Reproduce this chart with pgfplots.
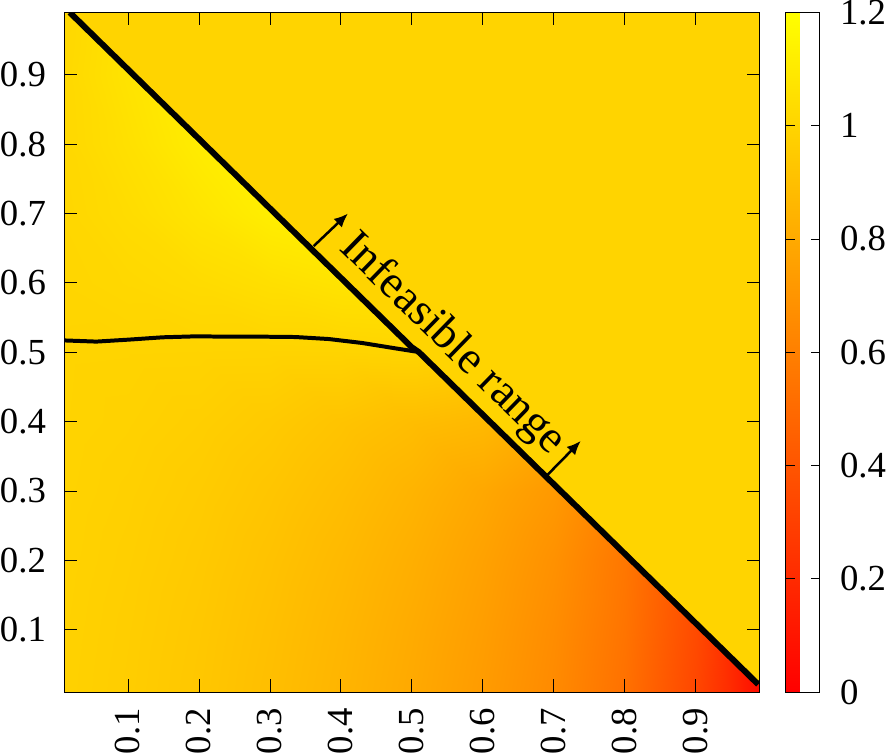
\documentclass[border=0pt]{standalone}
\usepackage{fontspec}
\setmainfont{Liberation Serif}
\usepackage{pgfplots}
\pgfplotsset{compat=1.18}
\usetikzlibrary{arrows.meta}
\definecolor{infeas}{RGB}{255,212,0}

\begin{document}
\begin{tikzpicture}
\begin{axis}[
    scale only axis,
    width=697.7bp, height=681.7bp,
    xmin=0.01, xmax=0.99, ymin=0.01, ymax=0.99,
    enlargelimits=false,
    axis on top,
    axis line style={line width=1bp},
    tick style={line width=0.8bp, black},
    tick align=inside,
    major tick length=13bp,
    xtick pos=both, ytick pos=both,
    xticklabel pos=lower, yticklabel pos=left,
    xtick={0.1,0.2,0.3,0.4,0.5,0.6,0.7,0.8,0.9},
    ytick={0.1,0.2,0.3,0.4,0.5,0.6,0.7,0.8,0.9},
    xticklabels={0.1,0.2,0.3,0.4,0.5,0.6,0.7,0.8,0.9},
    yticklabels={0.1,0.2,0.3,0.4,0.5,0.6,0.7,0.8,0.9},
    /pgf/number format/assume math mode=true,
    every tick label/.append style={font=\fontsize{37}{40}\selectfont, inner sep=0pt},
    xticklabel style={rotate=90, anchor=east},
    xticklabel shift=16bp,
    yticklabel shift=18bp,
    colormap={gp}{rgb255=(255,0,0) rgb255=(255,255,0)},
    point meta min=0, point meta max=1.2,
    colorbar,
    colorbar style={
        at={(parent axis.north east)}, anchor=north west,
        xshift=17.7bp,
        width=34.3bp, height=681.7bp,
        ytick={0,0.2,0.4,0.6,0.8,1,1.2},
        yticklabels={0,0.2,0.4,0.6,0.8,1,1.2},
        tick align=inside,
        major tick length=9bp,
        ytick pos=both, yticklabel pos=right,
        yticklabel style={font=\fontsize{37}{40}\selectfont, inner sep=0pt, anchor=west},
        yticklabel shift=20bp,
        axis line style={line width=1bp},
    },
]
% heat map, values
\addplot[surf, shader=interp, mesh/cols=12, point meta=explicit]
  table[x=x, y=y, meta=v] {
x y v
0.01 0.01 0.985
0.10 0.01 0.965
0.20 0.01 0.935
0.30 0.01 0.895
0.40 0.01 0.850
0.50 0.01 0.795
0.60 0.01 0.730
0.70 0.01 0.650
0.80 0.01 0.530
0.90 0.01 0.330
0.95 0.01 0.200
0.99 0.01 0.050
0.01 0.10 0.987
0.10 0.10 0.968
0.20 0.10 0.940
0.30 0.10 0.902
0.40 0.10 0.858
0.50 0.10 0.805
0.60 0.10 0.742
0.70 0.10 0.662
0.80 0.10 0.545
0.90 0.10 0.350
0.95 0.10 0.200
0.99 0.10 0.050
0.01 0.20 0.990
0.10 0.20 0.973
0.20 0.20 0.948
0.30 0.20 0.913
0.40 0.20 0.872
0.50 0.20 0.822
0.60 0.20 0.760
0.70 0.20 0.682
0.80 0.20 0.560
0.90 0.20 0.350
0.95 0.20 0.200
0.99 0.20 0.050
0.01 0.30 0.993
0.10 0.30 0.979
0.20 0.30 0.958
0.30 0.30 0.928
0.40 0.30 0.892
0.50 0.30 0.846
0.60 0.30 0.788
0.70 0.30 0.720
0.80 0.30 0.560
0.90 0.30 0.350
0.95 0.30 0.200
0.99 0.30 0.050
0.01 0.40 0.996
0.10 0.40 0.987
0.20 0.40 0.972
0.30 0.40 0.950
0.40 0.40 0.920
0.50 0.40 0.890
0.60 0.40 0.870
0.70 0.40 0.720
0.80 0.40 0.560
0.90 0.40 0.350
0.95 0.40 0.200
0.99 0.40 0.050
0.01 0.50 0.997
0.10 0.50 0.996
0.20 0.50 0.995
0.30 0.50 0.994
0.40 0.50 0.995
0.50 0.50 1.000
0.60 0.50 0.870
0.70 0.50 0.720
0.80 0.50 0.560
0.90 0.50 0.350
0.95 0.50 0.200
0.99 0.50 0.050
0.01 0.60 1.005
0.10 0.60 1.015
0.20 0.60 1.030
0.30 0.60 1.050
0.40 0.60 1.070
0.50 0.60 1.000
0.60 0.60 0.870
0.70 0.60 0.720
0.80 0.60 0.560
0.90 0.60 0.350
0.95 0.60 0.200
0.99 0.60 0.050
0.01 0.70 1.010
0.10 0.70 1.035
0.20 0.70 1.075
0.30 0.70 1.120
0.40 0.70 1.070
0.50 0.70 1.000
0.60 0.70 0.870
0.70 0.70 0.720
0.80 0.70 0.560
0.90 0.70 0.350
0.95 0.70 0.200
0.99 0.70 0.050
0.01 0.80 1.015
0.10 0.80 1.055
0.20 0.80 1.110
0.30 0.80 1.120
0.40 0.80 1.070
0.50 0.80 1.000
0.60 0.80 0.870
0.70 0.80 0.720
0.80 0.80 0.560
0.90 0.80 0.350
0.95 0.80 0.200
0.99 0.80 0.050
0.01 0.90 1.018
0.10 0.90 1.070
0.20 0.90 1.110
0.30 0.90 1.120
0.40 0.90 1.070
0.50 0.90 1.000
0.60 0.90 0.870
0.70 0.90 0.720
0.80 0.90 0.560
0.90 0.90 0.350
0.95 0.90 0.200
0.99 0.90 0.050
0.01 0.99 1.012
0.10 0.99 1.070
0.20 0.99 1.110
0.30 0.99 1.120
0.40 0.99 1.070
0.50 0.99 1.000
0.60 0.99 0.870
0.70 0.99 0.720
0.80 0.99 0.560
0.90 0.99 0.350
0.95 0.99 0.200
0.99 0.99 0.050
};
% infeasible region (constant value 1)
\addplot[fill=infeas, draw=none] coordinates {
  (0.018,0.99) (0.99,0.99) (0.99,0.021) (0.51,0.5) (0.5,0.507)
} -- cycle;
% boundary x+y=1
\addplot[black, line width=6bp] coordinates {
  (0.018,0.99) (0.5,0.507) (0.51,0.5) (0.988,0.021)
};
% contour at level 1
\addplot[black, line width=4bp] coordinates {
  (0.01,0.517) (0.0555,0.5153) (0.102,0.5182) (0.149,0.5215) (0.196,0.5229)
  (0.242,0.5224) (0.289,0.5224) (0.336,0.5219) (0.383,0.519) (0.430,0.5133)
  (0.476,0.5057) (0.505,0.501)
};
% arrows pointing into the infeasible range
\addplot[black, line width=2.5bp, -{Latex[length=14bp, width=12bp]}] coordinates {
  (0.3617,0.653) (0.410,0.700)
};
\addplot[black, line width=2.5bp, -{Latex[length=14bp, width=12bp]}] coordinates {
  (0.691,0.323) (0.738,0.372)
};
\node[rotate=-44.3, font=\fontsize{46.5}{50}\selectfont] at (axis cs:0.557,0.511) {Infeasible range};
\end{axis}
\end{tikzpicture}
\end{document}
